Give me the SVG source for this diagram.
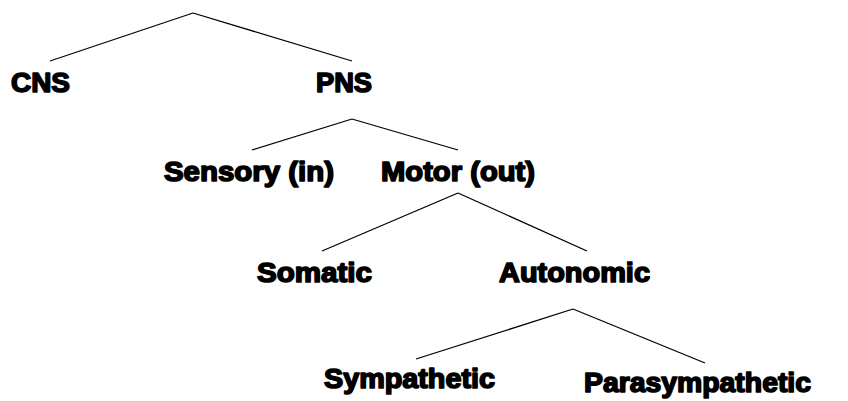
<svg xmlns="http://www.w3.org/2000/svg" width="848" height="401" viewBox="0 0 848 401">
<style>
.t{font-family:"Liberation Sans",Arial,sans-serif;font-weight:bold;font-size:27px;fill:#000;stroke:#000;stroke-width:1.6;stroke-linejoin:round}
.c line{stroke:#000;stroke-width:1.3;fill:none}
</style>
<rect width="848" height="401" fill="#fff"/>
<g id="connectors" class="c">
<line x1="193" y1="13" x2="50" y2="61"/>
<line x1="193" y1="13" x2="352" y2="61"/>
<line x1="352" y1="119" x2="252" y2="150"/>
<line x1="352" y1="119" x2="458" y2="150"/>
<line x1="458" y1="193" x2="322" y2="251"/>
<line x1="458" y1="193" x2="587" y2="251"/>
<line x1="573" y1="309" x2="416" y2="359"/>
<line x1="573" y1="309" x2="705" y2="363"/>
</g>
<g id="cns"><text class="t" x="11" y="92" textLength="59" lengthAdjust="spacingAndGlyphs">CNS</text></g>
<g id="pns"><text class="t" x="316" y="92" textLength="56" lengthAdjust="spacingAndGlyphs">PNS</text></g>
<g id="sensory"><text class="t" x="164" y="181" textLength="170" lengthAdjust="spacingAndGlyphs">Sensory (in)</text></g>
<g id="motor"><text class="t" x="381" y="181" textLength="154" lengthAdjust="spacingAndGlyphs">Motor (out)</text></g>
<g id="somatic"><text class="t" x="257" y="282" textLength="115" lengthAdjust="spacingAndGlyphs">Somatic</text></g>
<g id="autonomic"><text class="t" x="499" y="282" textLength="151" lengthAdjust="spacingAndGlyphs">Autonomic</text></g>
<g id="sympathetic"><text class="t" x="324" y="388" textLength="171" lengthAdjust="spacingAndGlyphs">Sympathetic</text></g>
<g id="parasympathetic"><text class="t" x="584" y="392" textLength="227" lengthAdjust="spacingAndGlyphs">Parasympathetic</text></g>
</svg>
